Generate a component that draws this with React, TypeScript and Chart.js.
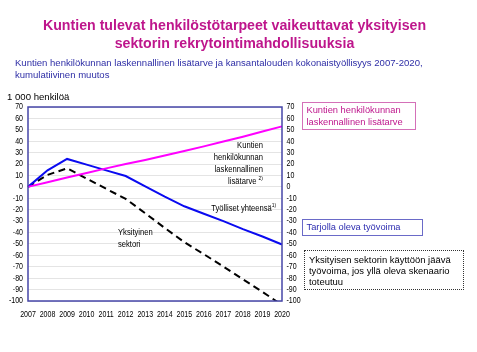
import React, { useEffect, useRef } from "react";
import { Chart, registerables } from "chart.js";

Chart.register(...registerables);

const years = ["2007", "2008", "2009", "2010", "2011", "2012", "2013", "2014", "2015", "2016", "2017", "2018", "2019", "2020"];
const municipalNeed = [0, 4, 8.2, 12.2, 16.2, 20, 23.6, 27.5, 31.5, 35.5, 39.8, 44, 48.5, 53];
const employedTotal = [0, 14.5, 24.5, 19.5, 14.5, 9.5, 0.5, -8.5, -17, -23.5, -30, -37, -43.5, -50.5];
const privateSector = [0, 10.5, 16.3, 7.3, -1.7, -10.5, -23.1, -36, -48.5, -59, -69.8, -81, -92, -103.5];
const yMin = -100;
const yMax = 70;
const yStep = 10;

const SANS = "'Liberation Sans', Arial, sans-serif";
const NARROW_SCALE = 0.82;

const framePlugin = {
  id: "frame",
  afterDatasetsDraw(chart: any) {
    const { ctx, chartArea } = chart;
    const { left, top, right, bottom } = chartArea;
    ctx.save();
    ctx.strokeStyle = "#4646A8";
    ctx.lineWidth = 1.5;
    ctx.strokeRect(left, top, right - left, bottom - top);
    ctx.restore();
  },
};

// Draw the library's tick labels horizontally condensed (like Arial Narrow).
const condensePlugin = {
  id: "condense",
  beforeDraw(chart: any) {
    const ctx = chart.ctx;
    const proto = Object.getPrototypeOf(ctx);
    const orig = proto.fillText;
    ctx.fillText = function (text: string, x: number, y: number) {
      this.save();
      this.translate(x, y);
      this.scale(NARROW_SCALE, 1);
      orig.call(this, text, 0, 0);
      this.restore();
    };
  },
  afterDraw(chart: any) {
    delete chart.ctx.fillText;
  },
};

export default function App() {
  const ref = useRef<HTMLCanvasElement | null>(null);

  useEffect(() => {
    if (!ref.current) return;
    const tickFont = { family: SANS, size: 8.6 };
    const chart = new Chart(ref.current, {
      type: "line",
      data: {
        labels: years,
        datasets: [
          {
            label: "Kuntien henkilökunnan laskennallinen lisätarve",
            data: municipalNeed,
            borderColor: "#FF00FF",
            borderWidth: 2,
            pointRadius: 0,
            tension: 0,
            yAxisID: "y",
          },
          {
            label: "Työlliset yhteensä",
            data: employedTotal,
            borderColor: "#0A0AF0",
            borderWidth: 2,
            pointRadius: 0,
            tension: 0,
            yAxisID: "y",
          },
          {
            label: "Yksityinen sektori",
            data: privateSector,
            borderColor: "#000000",
            borderWidth: 2,
            borderDash: [7, 4.5],
            pointRadius: 0,
            tension: 0,
            yAxisID: "y",
          },
        ],
      },
      options: {
        responsive: false,
        animation: false,
        layout: { padding: { top: 107, left: 0, right: 0, bottom: 0 } },
        plugins: {
          legend: { display: false },
          title: { display: false },
          tooltip: { enabled: false },
        },
        scales: {
          x: {
            type: "category",
            offset: false,
            grid: { display: false, drawTicks: false },
            border: { display: false },
            ticks: {
              padding: 8.5,
              color: "#000",
              font: tickFont,
              maxRotation: 0,
              minRotation: 0,
              autoSkip: false,
            },
            afterFit(scale: any) {
              scale.height = 51;
            },
          },
          y: {
            position: "left",
            min: yMin,
            max: yMax,
            grid: { color: "#E4E4E4", lineWidth: 1, drawTicks: false },
            border: { display: false },
            ticks: {
              stepSize: yStep,
              autoSkip: false,
              padding: 5,
              color: "#000",
              font: tickFont,
            },
            afterFit(scale: any) {
              scale.width = 28;
            },
          },
          y2: {
            position: "right",
            min: yMin,
            max: yMax,
            grid: { display: false, drawTicks: false },
            border: { display: false },
            ticks: {
              stepSize: yStep,
              autoSkip: false,
              padding: 4.5,
              color: "#000",
              font: tickFont,
            },
            afterFit(scale: any) {
              scale.width = 195;
            },
          },
        },
      },
      plugins: [framePlugin, condensePlugin],
    });
    return () => chart.destroy();
  }, []);

  const abs = (s: React.CSSProperties): React.CSSProperties => ({ position: "absolute", whiteSpace: "nowrap", ...s });
  const sup: React.CSSProperties = { fontSize: 6, verticalAlign: "4px", lineHeight: 0 };

  return (
    <div style={{ position: "fixed", left: 0, top: 0, width: 477, height: 352, background: "#fff", fontFamily: SANS }}>
      <canvas ref={ref} width={477} height={352} style={{ position: "absolute", left: 0, top: 0, width: 477, height: 352 }} />
      <div style={abs({ left: 0, top: 16, width: 469, textAlign: "center", color: "#BE168C", fontWeight: "bold", fontSize: 14.2, lineHeight: "18.3px" })}>
        Kuntien tulevat henkilöstötarpeet vaikeuttavat yksityisen
        <br />
        sektorin rekrytointimahdollisuuksia
      </div>
      <div style={abs({ left: 15, top: 57, color: "#2E2EA6", fontSize: 9.55, lineHeight: "11.5px" })}>
        Kuntien henkilökunnan laskennallinen lisätarve ja kansantalouden kokonaistyöllisyys 2007-2020,
        <br />
        kumulatiivinen muutos
      </div>
      <div style={abs({ left: 7, top: 91, color: "#000", fontSize: 9.6, lineHeight: "12px" })}>1 000 henkilöä</div>

      <div style={abs({ right: 477 - 263, top: 139, textAlign: "right", color: "#000", fontSize: 9.3, lineHeight: "12px", transform: `scaleX(${NARROW_SCALE})`, transformOrigin: "right top" })}>
        Kuntien
        <br />
        henkilökunnan
        <br />
        laskennallinen
        <br />
        lisätarve <sup style={sup}>2)</sup>
      </div>
      <div style={abs({ right: 477 - 276, top: 202.3, color: "#000", fontSize: 9.3, lineHeight: "12px", transform: `scaleX(${NARROW_SCALE})`, transformOrigin: "right top" })}>
        Työlliset yhteensä<sup style={sup}>1)</sup>
      </div>
      <div style={abs({ left: 118, top: 225.7, color: "#000", fontSize: 9.3, lineHeight: "12px", transform: `scaleX(${NARROW_SCALE})`, transformOrigin: "left top" })}>
        Yksityinen
        <br />
        sektori
      </div>

      <div style={abs({ left: 301.5, top: 101.5, width: 112, height: 26, border: "1px solid #D470B8", color: "#BE168C", fontSize: 9.3, lineHeight: "11.7px" })}>
        <div style={{ position: "absolute", left: 4, top: 2.5 }}>
          Kuntien henkilökunnan
          <br />
          laskennallinen lisätarve
        </div>
      </div>
      <div style={abs({ left: 301.5, top: 219.3, width: 119, height: 15, border: "1px solid #6A6AC8", color: "#2E2EB0", fontSize: 9.3, lineHeight: "11.7px" })}>
        <div style={{ position: "absolute", left: 4, top: 2 }}>Tarjolla oleva työvoima</div>
      </div>
      <div style={abs({ left: 304, top: 250, width: 157.5, height: 37.5, border: "1px dotted #333", color: "#000", fontSize: 9.45, lineHeight: "11.2px" })}>
        <div style={{ position: "absolute", left: 4, top: 2.5 }}>
          Yksityisen sektorin käyttöön jäävä
          <br />
          työvoima, jos yllä oleva skenaario
          <br />
          toteutuu
        </div>
      </div>
    </div>
  );
}
